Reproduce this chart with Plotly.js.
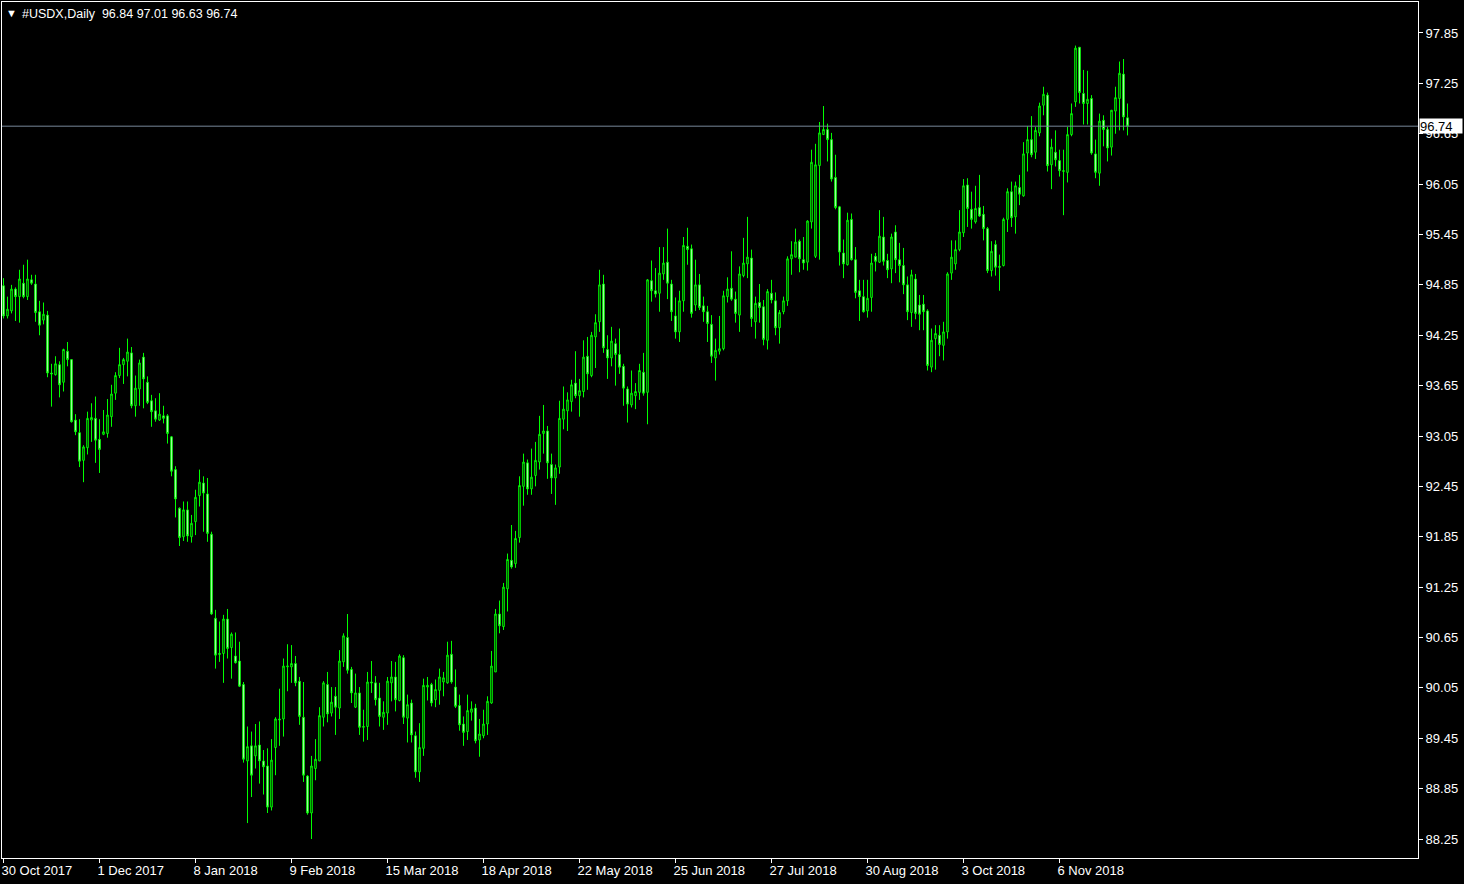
<!DOCTYPE html>
<html><head><meta charset="utf-8">
<script src="https://cdn.plot.ly/plotly-3.0.1.min.js"></script>
<style>html,body{margin:0;padding:0;background:#000;overflow:hidden}#chart{width:1464px;height:884px}</style>
</head><body><div id="chart"></div>
<script>
const symbol = "#USDX,Daily";
const open = [
94.84,94.48,94.54,94.80,94.71,94.87,94.71,94.91,94.86,94.53,
94.43,94.49,93.80,93.78,93.90,93.69,94.06,93.96,93.24,93.09,
92.76,92.91,93.24,93.26,93.01,93.07,93.08,93.28,93.56,93.77,
93.90,93.94,94.04,93.41,93.61,93.99,93.69,93.47,93.35,93.24,
93.29,93.29,93.04,92.65,92.19,91.85,92.17,91.85,92.03,92.34,
92.49,92.36,91.88,90.88,90.46,90.46,90.87,90.53,90.43,90.37,
90.09,89.18,89.36,89.24,89.37,89.18,89.12,88.63,89.34,89.68,
89.68,90.30,90.30,90.34,90.13,89.70,89.00,88.56,89.09,89.18,
89.70,90.09,89.75,89.95,89.81,90.36,90.65,90.27,89.82,89.99,
89.58,89.59,90.12,90.11,89.93,89.70,89.75,90.11,90.18,89.90,
90.41,89.69,89.87,89.48,89.05,89.33,90.06,90.09,89.91,90.02,
90.12,90.11,90.45,90.06,89.84,89.62,89.53,89.76,89.81,89.43,
89.48,89.62,89.87,90.24,90.93,90.78,91.23,91.57,91.53,91.84,
92.45,92.73,92.42,92.58,92.74,93.08,93.11,92.71,92.55,92.68,
93.25,93.35,93.46,93.68,93.53,93.58,94.00,93.77,94.23,94.41,
94.86,94.08,93.98,94.15,94.02,93.88,93.61,93.42,93.53,93.57,
93.81,93.57,94.90,94.78,94.75,94.98,95.12,94.86,94.48,94.29,
94.66,95.31,95.28,94.61,94.85,94.60,94.53,94.38,93.98,94.06,
94.09,94.71,94.81,94.68,94.49,94.96,95.10,95.17,94.41,94.64,
94.59,94.19,94.75,94.66,94.34,94.53,94.66,95.16,95.18,95.37,
95.15,95.12,95.60,95.19,96.27,96.64,96.70,96.58,96.13,95.78,
95.23,95.09,95.63,95.15,94.78,94.71,94.54,94.70,95.19,95.12,
95.42,95.14,95.04,95.48,95.15,95.08,94.85,94.52,94.92,94.61,
94.62,94.54,93.87,94.21,94.25,94.13,94.29,94.99,95.10,95.27,
95.47,96.04,95.75,95.60,95.77,95.69,95.52,95.02,95.33,95.07,
95.08,95.63,95.96,95.66,96.01,95.91,96.42,96.58,96.43,96.66,
96.99,97.11,96.28,96.43,96.33,96.20,96.19,96.64,97.03,97.68,
97.13,97.01,97.07,96.41,96.18,96.81,96.70,96.49,96.92,97.07,
97.36,96.84];
const high = [
94.93,94.71,94.85,94.82,95.03,95.09,95.15,94.97,94.97,94.66,
94.64,94.54,93.91,94.00,93.94,94.09,94.17,93.96,93.31,93.25,
92.94,93.34,93.44,93.52,93.25,93.36,93.49,93.66,93.81,94.10,
93.98,94.21,94.11,93.77,93.96,94.04,93.76,93.54,93.50,93.56,
93.41,93.31,93.05,92.69,92.20,92.27,92.27,92.11,92.41,92.65,
92.57,92.55,91.91,90.98,90.84,90.92,90.99,90.71,90.71,90.60,
90.12,89.59,89.53,89.62,89.65,89.31,89.33,89.44,89.70,90.04,
90.40,90.57,90.56,90.43,90.18,90.12,89.01,89.24,89.44,89.82,
90.13,90.24,90.06,90.06,90.50,90.70,90.93,90.30,90.22,90.06,
89.79,90.24,90.37,90.19,90.11,89.89,90.18,90.37,90.36,90.45,
90.44,89.97,89.91,89.53,89.63,90.16,90.18,90.11,90.15,90.28,
90.24,90.60,90.61,90.27,89.97,89.71,89.97,89.89,89.86,89.68,
89.79,89.95,90.49,90.99,91.09,91.30,91.65,91.99,91.92,92.57,
92.84,92.77,92.90,92.98,93.29,93.42,93.17,92.84,92.71,93.47,
93.64,93.57,93.72,94.06,93.73,94.19,94.23,94.29,94.50,95.03,
94.97,94.25,94.35,94.21,94.33,93.91,93.64,93.83,93.68,93.91,
94.04,94.92,95.14,95.05,95.30,95.30,95.52,94.91,94.70,94.78,
95.42,95.53,95.33,95.15,94.98,94.71,94.60,94.49,94.21,94.48,
94.78,94.94,95.25,94.77,95.07,95.41,95.66,95.27,94.71,94.86,
94.67,94.80,94.91,94.76,94.55,94.71,95.19,95.37,95.52,95.39,
95.42,95.62,96.46,96.53,96.79,96.98,96.77,96.66,96.40,95.79,
95.39,95.71,95.70,95.30,94.91,94.91,94.91,95.22,95.23,95.74,
95.66,95.22,95.46,95.56,95.35,95.29,94.95,95.03,94.98,94.73,
94.73,94.56,94.33,94.37,94.37,94.41,95.00,95.38,95.38,95.74,
96.11,96.12,95.96,96.03,96.16,95.79,95.54,95.37,95.38,95.21,
95.65,96.00,96.08,96.08,96.16,96.55,96.74,96.86,96.73,97.02,
97.21,97.14,96.59,96.69,96.46,96.46,96.73,97.01,97.70,97.68,
97.41,97.40,97.11,96.58,96.89,96.87,96.73,96.93,97.21,97.51,
97.54,97.01];
const low = [
94.45,94.45,94.51,94.42,94.40,94.69,94.67,94.85,94.41,94.25,
94.38,93.75,93.40,93.77,93.51,93.58,93.88,93.21,93.06,92.68,
92.50,92.83,92.98,92.73,92.61,93.06,93.03,93.16,93.48,93.74,
93.67,93.76,93.38,93.28,93.41,93.38,93.43,93.16,93.22,93.23,
93.20,92.96,92.57,92.08,91.74,91.80,91.79,91.78,91.87,92.21,
91.91,91.79,90.92,90.28,90.36,90.11,90.40,90.16,90.34,90.06,
89.16,88.44,88.75,89.09,88.91,88.78,88.56,88.59,89.01,89.36,
89.47,90.01,90.11,90.07,89.61,88.93,88.54,88.25,88.95,89.18,
89.59,89.64,89.71,89.49,89.68,90.30,90.22,89.87,89.81,89.49,
89.41,89.43,89.99,89.84,89.59,89.55,89.61,89.89,89.77,89.89,
89.62,89.40,89.40,88.98,88.93,89.24,89.90,89.83,89.82,89.85,
89.95,90.10,90.10,89.81,89.54,89.36,89.43,89.66,89.39,89.23,
89.45,89.49,89.86,90.24,90.70,90.74,90.96,91.47,91.48,91.78,
92.22,92.35,92.35,92.45,92.65,92.84,92.54,92.36,92.23,92.60,
93.13,93.11,93.34,93.50,93.28,93.51,93.60,93.75,93.86,94.29,
94.04,93.73,93.88,93.65,93.79,93.41,93.21,93.39,93.37,93.48,
93.53,93.19,94.65,94.70,94.53,94.91,94.68,94.42,94.21,94.17,
94.53,95.09,94.46,94.54,94.55,94.41,94.17,93.92,93.71,94.02,
94.07,94.64,94.66,94.40,94.29,94.94,94.93,94.35,94.21,94.40,
94.13,94.08,94.63,94.25,94.15,94.50,94.60,94.97,95.18,95.00,
95.03,95.02,95.52,95.17,95.15,96.64,96.32,96.08,95.75,95.08,
94.93,95.08,95.14,94.69,94.42,94.52,94.46,94.53,95.01,95.11,
95.08,94.93,94.87,94.99,94.88,94.74,94.43,94.35,94.44,94.31,
94.31,93.83,93.81,93.84,94.00,93.95,94.21,94.91,95.03,95.25,
95.42,95.54,95.52,95.58,95.66,95.38,94.99,94.95,94.96,94.78,
95.07,95.48,95.54,95.46,95.80,95.90,96.20,96.37,96.35,96.62,
96.87,96.20,95.99,96.26,96.14,95.68,96.07,96.62,96.97,97.01,
96.76,96.76,96.40,96.12,96.03,96.50,96.32,96.39,96.65,96.69,
96.69,96.63];
const close = [
94.48,94.56,94.80,94.71,94.92,94.71,94.92,94.87,94.52,94.37,
94.50,93.80,93.79,93.91,93.66,94.08,93.96,93.22,93.10,92.75,
92.92,93.26,93.27,93.00,92.89,93.10,93.30,93.55,93.77,93.90,
93.96,94.05,93.41,93.62,93.92,93.73,93.45,93.34,93.25,93.31,
93.26,93.08,92.63,92.30,91.84,92.17,91.86,92.01,92.32,92.50,
92.37,91.89,90.93,90.44,90.45,90.87,90.52,90.69,90.35,90.07,
89.20,89.35,89.01,89.36,89.18,89.11,88.63,89.19,89.68,89.67,
90.31,90.31,90.34,90.11,89.71,89.01,88.56,89.12,89.20,89.72,
90.11,89.74,89.88,89.82,90.37,90.67,90.26,89.99,89.99,89.58,
89.59,90.12,90.11,89.91,89.71,89.76,90.13,90.18,89.91,90.43,
89.70,89.85,89.49,89.05,89.34,90.08,90.08,89.87,90.03,90.18,
90.17,90.44,90.12,89.83,89.61,89.52,89.78,89.80,89.42,89.50,
89.62,89.89,90.31,90.93,90.79,91.25,91.58,91.49,91.83,92.46,
92.74,92.42,92.56,92.76,93.07,93.11,92.73,92.55,92.67,93.26,
93.37,93.48,93.66,93.53,93.59,93.99,93.79,94.25,94.40,94.85,
94.10,93.98,94.18,94.02,93.87,93.62,93.43,93.56,93.58,93.83,
93.56,94.91,94.78,94.74,94.99,95.11,94.87,94.53,94.29,94.66,
95.32,95.27,94.51,94.85,94.58,94.53,94.39,94.00,94.07,94.09,
94.72,94.80,94.68,94.51,94.98,95.11,95.18,94.45,94.63,94.58,
94.20,94.77,94.67,94.34,94.52,94.66,95.16,95.21,95.36,95.16,
95.11,95.61,96.31,96.28,96.66,96.70,96.58,96.11,95.77,95.24,
95.10,95.62,95.15,94.76,94.71,94.53,94.69,95.11,95.13,95.43,
95.13,95.03,95.42,95.15,95.08,94.85,94.53,94.97,94.51,94.50,
94.53,93.89,94.19,94.27,94.14,94.29,94.98,95.18,95.27,95.48,
96.03,95.76,95.63,95.76,95.67,95.52,95.02,95.25,95.06,95.06,
95.63,95.96,95.65,96.03,95.93,96.41,96.58,96.40,96.69,96.98,
97.12,96.27,96.49,96.34,96.21,96.21,96.64,96.89,97.67,97.14,
97.01,97.06,96.42,96.19,96.80,96.70,96.48,96.93,97.08,97.37,
96.85,96.74];
const dateTickBars = [0,24,48,72,96,120,144,168,192,216,240,264];
const dateTickLabels = ["30 Oct 2017","1 Dec 2017","8 Jan 2018","9 Feb 2018","15 Mar 2018","18 Apr 2018","22 May 2018","25 Jun 2018","27 Jul 2018","30 Aug 2018","3 Oct 2018","6 Nov 2018"];
const priceTicks = [97.85,97.25,96.65,96.05,95.45,94.85,94.25,93.65,93.05,92.45,91.85,91.25,90.65,90.05,89.45,88.85,88.25];

const barIndex = close.map((_, i) => i);
const last = close.length - 1;
const lastClose = close[last];
const FONT = "Liberation Sans, Arial, sans-serif";
const GREEN = "#00FF00";

const trace = {
  type: "candlestick",
  x: barIndex, open: open, high: high, low: low, close: close,
  increasing: {line: {color: GREEN, width: 1}, fillcolor: "#000000"},
  decreasing: {line: {color: GREEN, width: 1}, fillcolor: "#FFFFFF"},
  whiskerwidth: 0,
  hoverinfo: "none",
  showlegend: false
};

const layout = {
  width: 1464, height: 884,
  paper_bgcolor: "#000000", plot_bgcolor: "#000000",
  margin: {l: 2, r: 46, t: 2, b: 26, pad: 0},
  showlegend: false,
  boxgap: 0.45,
  font: {family: FONT, size: 13, color: "#FFFFFF"},
  xaxis: {
    range: [-0.375, 353.625], fixedrange: true,
    rangeslider: {visible: false},
    showgrid: false, zeroline: false,
    showline: true, linecolor: "#FFFFFF", linewidth: 1, mirror: true,
    tickmode: "array", tickvals: dateTickBars, ticktext: dateTickLabels,
    ticks: "outside", ticklen: 4, tickcolor: "#FFFFFF", tickwidth: 1,
    ticklabelposition: "outside right",
    ticklabelshift: -3,
    tickfont: {family: FONT, size: 13, color: "#FFFFFF"}
  },
  yaxis: {
    side: "right", range: [88.024, 98.219], fixedrange: true,
    showgrid: false, zeroline: false,
    showline: true, linecolor: "#FFFFFF", linewidth: 1, mirror: true,
    tickmode: "array", tickvals: priceTicks, ticktext: priceTicks.map(v => v.toFixed(2)),
    ticks: "outside", ticklen: 4, tickcolor: "#FFFFFF", tickwidth: 1,
    tickfont: {family: FONT, size: 13, color: "#FFFFFF"}
  },
  shapes: [{
    type: "line", xref: "paper", yref: "y", x0: 0, x1: 1, y0: lastClose, y1: lastClose,
    line: {color: "#778899", width: 1}
  }],
  annotations: [
    {xref: "paper", yref: "paper", x: 0, y: 1, xanchor: "left", yanchor: "top",
     xshift: 2, yshift: -3, showarrow: false, text: "\u25BC",
     font: {family: FONT, size: 11, color: "#FFFFFF"}},
    {xref: "paper", yref: "paper", x: 0, y: 1, xanchor: "left", yanchor: "top",
     xshift: 18, yshift: -3, showarrow: false,
     text: symbol + "\u00a0\u00a0" + [open[last], high[last], low[last], close[last]].map(v => v.toFixed(2)).join(" "),
     font: {family: FONT, size: 12.5, color: "#FFFFFF"}},
    {xref: "paper", yref: "y", x: 1, y: lastClose, xanchor: "left", yanchor: "middle",
     xshift: 1, showarrow: false, text: lastClose.toFixed(2),
     bgcolor: "#FFFFFF", borderpad: 0, width: 42, height: 14, align: "left",
     font: {family: FONT, size: 13, color: "#000000"}}
  ]
};

Plotly.newPlot("chart", [trace], layout, {staticPlot: true, displayModeBar: false});
</script>
</body></html>
